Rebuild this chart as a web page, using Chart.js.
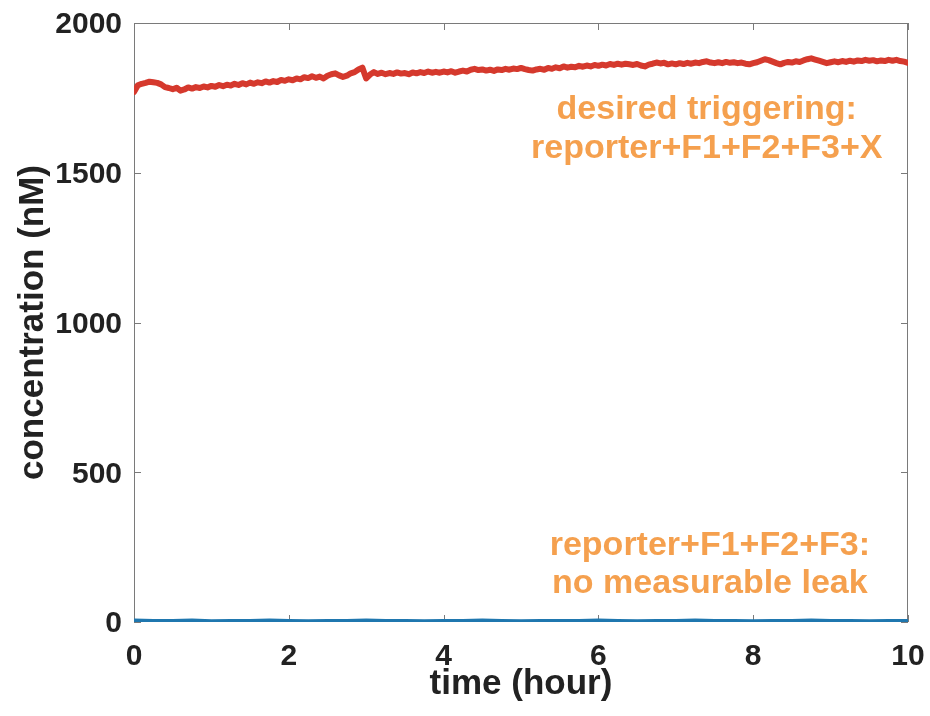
<!DOCTYPE html>
<html><head><meta charset="utf-8">
<script src="https://cdn.jsdelivr.net/npm/chart.js@4/dist/chart.umd.min.js"></script>
<style>html,body{margin:0;padding:0;background:#fff;}#wrap{width:930px;height:716px;position:relative;}</style>
</head><body><div id="wrap"><canvas id="c" width="930" height="716"></canvas></div>
<script>
// ---- data ----
const xTicks = [0, 2, 4, 6, 8, 10];
const yTicks = [0, 500, 1000, 1500, 2000];
const xTitle = 'time (hour)';
const yTitle = 'concentration (nM)';

// desired triggering: reporter+F1+F2+F3+X (sampled every 0.05 h)
const redStep = 0.05;
const redValues = [
1770,1792,1797,1800,1804,1802,1800,1795,1786,1783,
1779,1784,1774,1778,1785,1781,1786,1783,1788,1785,
1790,1787,1793,1789,1794,1791,1797,1793,1799,1795,
1801,1797,1802,1799,1805,1801,1806,1803,1810,1807,
1812,1809,1815,1812,1819,1816,1822,1817,1821,1815,
1824,1829,1832,1825,1820,1824,1832,1836,1845,1851,
1815,1828,1836,1830,1834,1829,1833,1830,1835,1831,
1833,1829,1835,1832,1836,1833,1838,1834,1837,1834,
1838,1835,1839,1834,1838,1841,1838,1844,1847,1843,
1845,1841,1844,1840,1845,1843,1847,1844,1848,1846,
1850,1846,1843,1841,1845,1847,1844,1850,1847,1852,
1849,1855,1851,1854,1852,1857,1854,1858,1855,1860,
1857,1861,1858,1863,1860,1864,1861,1864,1862,1860,
1863,1858,1855,1861,1864,1868,1865,1867,1862,1865,
1862,1866,1863,1867,1864,1868,1866,1870,1872,1868,
1866,1869,1866,1870,1867,1869,1866,1868,1864,1862,
1866,1869,1874,1879,1876,1871,1866,1862,1867,1870,
1868,1872,1870,1875,1879,1882,1878,1874,1870,1866,
1869,1872,1869,1873,1870,1874,1871,1875,1873,1877,
1874,1876,1872,1875,1873,1877,1874,1877,1873,1871,
1867
];

// reporter+F1+F2+F3: no measurable leak (sampled every 0.25 h)
const blueStep = 0.25;
const blueValues = [
3,2,2,3,1,2,2,3,2,1,
2,2,3,2,2,1,2,2,3,2,
1,2,2,2,3,2,1,2,2,3,
2,2,1,2,2,3,2,2,1,2,
2
];

// annotations: text lines and anchor (hour, nM) of each line
const annoTop = ['desired triggering:', 'reporter+F1+F2+F3+X'];
const annoTopPos = [[7.4, 1710], [7.4, 1580]];
const annoBottom = ['reporter+F1+F2+F3:', 'no measurable leak'];
const annoBottomPos = [[7.44, 254], [7.44, 127]];

const redColor = '#D5392D';
const blueColor = '#1F77AF';
const annoColor = '#F5A04E';
const textColor = '#222222';
const FAMILY = '"Liberation Sans", Arial, Helvetica, sans-serif';

const toPts = (vals, step) => vals.map((v, i) => ({x: i * step, y: v}));

const framePlugin = {
  id: 'frame',
  beforeDatasetsDraw(chart) {
    const {ctx, chartArea: a, scales: {x, y}} = chart;
    ctx.save();
    ctx.strokeStyle = '#7a7a7a';
    ctx.lineWidth = 1;
    ctx.strokeRect(a.left + 0.5, a.top + 0.5, a.right - a.left - 1, a.bottom - a.top - 1);
    ctx.beginPath();
    const L = 7;
    xTicks.forEach(v => {
      const px = Math.round(x.getPixelForValue(v)) + 0.5;
      ctx.moveTo(px, a.bottom); ctx.lineTo(px, a.bottom - L);
      ctx.moveTo(px, a.top); ctx.lineTo(px, a.top + L);
    });
    yTicks.forEach(v => {
      const py = Math.round(y.getPixelForValue(v)) + 0.5;
      ctx.moveTo(a.left, py); ctx.lineTo(a.left + L, py);
      ctx.moveTo(a.right, py); ctx.lineTo(a.right - L, py);
    });
    ctx.stroke();
    ctx.restore();
  },
  afterDraw(chart) {
    const {ctx, scales: {x, y}} = chart;
    ctx.save();
    ctx.fillStyle = annoColor;
    ctx.font = 'bold 34px ' + FAMILY;
    ctx.textAlign = 'center';
    ctx.textBaseline = 'middle';
    const drawLines = (lines, pos) => lines.forEach((t, i) => {
      ctx.fillText(t, x.getPixelForValue(pos[i][0]), y.getPixelForValue(pos[i][1]));
    });
    drawLines(annoTop, annoTopPos);
    drawLines(annoBottom, annoBottomPos);
    ctx.restore();
  }
};

new Chart(document.getElementById('c'), {
  type: 'line',
  data: {
    datasets: [
      {data: toPts(redValues, redStep), borderColor: redColor, borderWidth: 6, pointRadius: 0, tension: 0, fill: false, borderJoinStyle: 'round', borderCapStyle: 'round'},
      {data: toPts(blueValues, blueStep), borderColor: blueColor, borderWidth: 5, pointRadius: 0, tension: 0, fill: false}
    ]
  },
  options: {
    responsive: false,
    animation: false,
    devicePixelRatio: 1,
    layout: {padding: {top: 23, right: 22, left: 0, bottom: 0}},
    plugins: {legend: {display: false}, tooltip: {enabled: false}},
    scales: {
      x: {
        type: 'linear', min: 0, max: 10,
        afterBuildTicks: s => { s.ticks = xTicks.map(v => ({value: v})); },
        afterFit: s => { s.height = 94; s.paddingLeft = 0; s.paddingRight = 0; },
        grid: {display: false, drawTicks: false},
        border: {display: false},
        ticks: {color: textColor, font: {family: FAMILY, size: 30, weight: 'bold'}, padding: 17, maxRotation: 0, autoSkip: false, callback: v => String(v)},
        title: {display: true, text: xTitle, color: textColor, font: {family: FAMILY, size: 35, weight: 'bold', lineHeight: 1}, padding: {top: 0, bottom: 14}}
      },
      y: {
        type: 'linear', min: 0, max: 2000,
        afterBuildTicks: s => { s.ticks = yTicks.map(v => ({value: v})); },
        afterFit: s => { s.width = 134; s.paddingTop = 0; s.paddingBottom = 0; },
        grid: {display: false, drawTicks: false},
        border: {display: false},
        ticks: {color: textColor, font: {family: FAMILY, size: 30, weight: 'bold'}, padding: 12, labelOffset: 2, autoSkip: false, callback: v => String(v)},
        title: {display: true, text: yTitle, color: textColor, font: {family: FAMILY, size: 35, weight: 'bold', lineHeight: 1}, padding: {top: 16, bottom: 0}}
      }
    }
  },
  plugins: [framePlugin]
});
</script></body></html>
